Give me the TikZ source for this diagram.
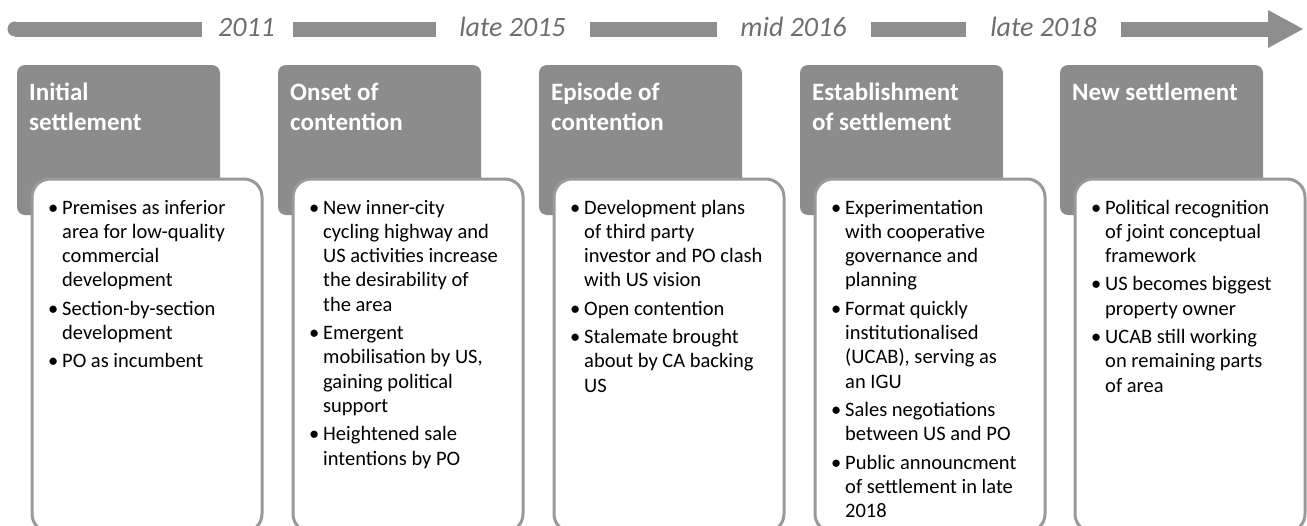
\documentclass[tikz,border=0pt]{standalone}
\usepackage{fontspec}
\setmainfont{Carlito}
\definecolor{barfill}{HTML}{8E8E8E}
\definecolor{headfill}{HTML}{8C8C8C}
\definecolor{boxline}{HTML}{999999}
\definecolor{datetext}{HTML}{6E6E6E}
\newcommand{\bul}{\makebox[14pt][l]{\textbullet}}
\tikzset{
  bar/.style={fill=barfill},
  headbox/.style={fill=headfill, rounded corners=8},
  bodybox/.style={fill=white, draw=boxline, line width=3, rounded corners=18},
  datelabel/.style={anchor=base, inner sep=0, text=datetext,
    font=\fontsize{28}{34}\selectfont\itshape},
  headtext/.style={anchor=base west, inner sep=0, text=white,
    font=\fontsize{25}{30}\selectfont\bfseries},
  bodytext/.style={anchor=base west, inner sep=0,
    font=\fontsize{20.5}{24.3}\selectfont}
}

\begin{document}
\begin{tikzpicture}[x=1pt,y=-1pt]
\useasboundingbox (0,0) rectangle (1307,525);
\fill[bar] (15,21.5) rectangle (202,36.5);
\fill[bar] (15,29) circle (7.5);
\fill[bar] (293,21.5) rectangle (436,36.5);
\fill[bar] (590,21.5) rectangle (717,36.5);
\fill[bar] (871,21.5) rectangle (966,36.5);
\fill[bar] (1121,21.5) rectangle (1269,36.5);
\fill[bar] (1268,10) -- (1303,29) -- (1268,48) -- cycle;
\node[datelabel] (d2011) at (246.5,36.5) {2011};
\node[datelabel] (d2015) at (512.5,36.5) {late 2015};
\node[datelabel] (d2016) at (793.5,36.5) {mid 2016};
\node[datelabel] (d2018) at (1043.5,36.5) {late 2018};
\fill[headbox] (17,65) rectangle (220,215);
\fill[headbox] (278,65) rectangle (481,215);
\fill[headbox] (539,65) rectangle (742,215);
\fill[headbox] (800,65) rectangle (1003,215);
\fill[headbox] (1060,65) rectangle (1263,215);
\filldraw[bodybox] (32,179) rectangle (262,532);
\filldraw[bodybox] (293,179) rectangle (523,532);
\filldraw[bodybox] (554,179) rectangle (784,532);
\filldraw[bodybox] (815,179) rectangle (1045,532);
\filldraw[bodybox] (1075,179) rectangle (1305,532);
\node[headtext] (h1) at (29,100) {\begin{tabular}[t]{@{}l@{}}Initial\\settlement\end{tabular}};
\node[headtext] (h2) at (290,100) {\begin{tabular}[t]{@{}l@{}}Onset of\\contention\end{tabular}};
\node[headtext] (h3) at (551,100) {\begin{tabular}[t]{@{}l@{}}Episode of\\contention\end{tabular}};
\node[headtext] (h4) at (812,100) {\begin{tabular}[t]{@{}l@{}}Establishment\\of settlement\end{tabular}};
\node[headtext] (h5) at (1072,100) {\begin{tabular}[t]{@{}l@{}}New settlement\end{tabular}};
\node[bodytext] (b1) at (48,214) {\begin{tabular}[t]{@{}l@{}l@{}}
\bul & Premises as inferior\\ & area for low-quality\\ & commercial\\ & development\\[4pt]
\bul & Section-by-section\\ & development\\[4pt]
\bul & PO as incumbent
\end{tabular}};
\node[bodytext] (b2) at (309,214) {\begin{tabular}[t]{@{}l@{}l@{}}
\bul & New inner-city\\ & cycling highway and\\ & US activities increase\\ & the desirability of\\ & the area\\[4pt]
\bul & Emergent\\ & mobilisation by US,\\ & gaining political\\ & support\\[4pt]
\bul & Heightened sale\\ & intentions by PO
\end{tabular}};
\node[bodytext] (b3) at (570,214) {\begin{tabular}[t]{@{}l@{}l@{}}
\bul & Development plans\\ & of third party\\ & investor and PO clash\\ & with US vision\\[4pt]
\bul & Open contention\\[4pt]
\bul & Stalemate brought\\ & about by CA backing\\ & US
\end{tabular}};
\node[bodytext] (b4) at (831,214) {\begin{tabular}[t]{@{}l@{}l@{}}
\bul & Experimentation\\ & with cooperative\\ & governance and\\ & planning\\[4pt]
\bul & Format quickly\\ & institutionalised\\ & (UCAB), serving as\\ & an IGU\\[4pt]
\bul & Sales negotiations\\ & between US and PO\\[4pt]
\bul & Public announcment\\ & of settlement in late\\ & 2018
\end{tabular}};
\node[bodytext] (b5) at (1091,214) {\begin{tabular}[t]{@{}l@{}l@{}}
\bul & Political recognition\\ & of joint conceptual\\ & framework\\[4pt]
\bul & US becomes biggest\\ & property owner\\[4pt]
\bul & UCAB still working\\ & on remaining parts\\ & of area
\end{tabular}};
\end{tikzpicture}
\end{document}
